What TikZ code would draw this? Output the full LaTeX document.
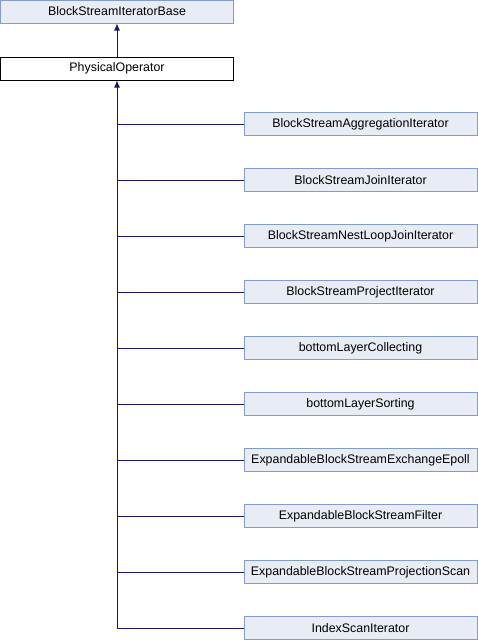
\documentclass[tikz,border=0pt]{standalone}
\usepackage{fontspec}
\setmainfont{Liberation Sans}
\usepackage{tikz}
\usetikzlibrary{arrows.meta}
\usetikzlibrary{positioning}
\definecolor{mnavy}{rgb}{0.1, 0.1, 0.44}
\definecolor{mfill}{RGB}{232, 236, 245}
\definecolor{mline}{RGB}{132, 156, 204}

\tikzset{
  cls/.style={draw=mline, fill=mfill, line width=1pt, minimum width=233pt, minimum height=23pt,
    inner sep=0pt, font=\fontsize{12.4}{14}\selectfont},
  cur/.style={cls, draw=black, fill=white},
  inh/.style={mnavy, line width=1pt}
}

\begin{document}
\begin{tikzpicture}[x=1pt, y=-1pt]
    \useasboundingbox (0, 0) rectangle (478, 640);

    \node [cls] (base) at (117, 11.5) {BlockStreamIteratorBase};
    \node [cur] (phys) at (117, 68.5) {PhysicalOperator};
    \draw [inh, -{Latex[length=7pt, width=6pt]}] (phys) -- (base);

    \foreach \name [count=\i] in {BlockStreamAggregationIterator, BlockStreamJoinIterator,
        BlockStreamNestLoopJoinIterator, BlockStreamProjectIterator, bottomLayerCollecting,
        bottomLayerSorting, ExpandableBlockStreamExchangeEpoll, ExpandableBlockStreamFilter,
        ExpandableBlockStreamProjectionScan, IndexScanIterator}
    {
      \node [cls] (sub\i) at (360.5, 68 + 56*\i) {\name};
      \draw [inh] (sub\i.west) -- (sub\i.west -| phys.south);
    }

    \draw [inh, -{Latex[length=7pt, width=6pt]}] (sub10.west) -| (phys.south);
  \end{tikzpicture}
\end{document}
